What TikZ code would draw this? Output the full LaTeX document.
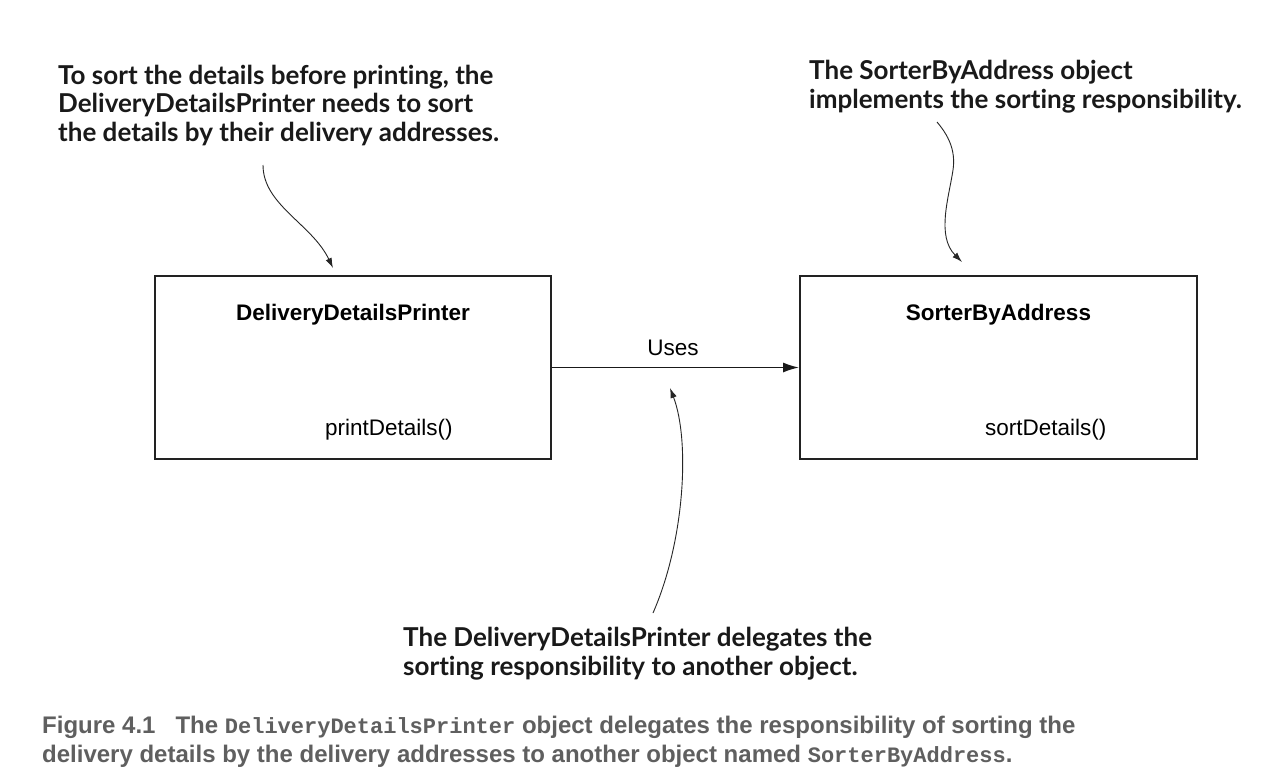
\documentclass[tikz,border=0pt]{standalone}
\usepackage{fontspec}
\setmainfont{Liberation Sans}
\setmonofont{Liberation Mono}
\newfontfamily\annfont[Ligatures=NoCommon]{Lato}
\newfontfamily\capfont{Liberation Sans}
\usetikzlibrary{arrows.meta}
\definecolor{capgray}{HTML}{5F5F5F}
\definecolor{boxline}{HTML}{222222}
\begin{document}
\begin{tikzpicture}[x=1pt,y=-1pt,
  cls/.style={draw=boxline, line width=1.8pt, minimum width=396pt, minimum height=183pt, inner sep=0pt},
  title/.style={font=\fontsize{22.5}{26}\selectfont\bfseries, inner sep=0pt},
  method/.style={font=\fontsize{22.5}{26}\selectfont, inner sep=0pt},
  ann/.style={font=\annfont\bfseries\fontsize{26}{28.5}\selectfont, align=left, inner sep=0pt, text=black!90},
  note/.style={draw=black!85, line width=0.9pt, -{Latex[length=10pt,width=6.5pt]}},
  usesarrow/.style={draw=black!90, line width=1.6pt, -{Latex[length=16pt,width=10pt]}},
  caption/.style={font=\capfont\bfseries\fontsize{24}{29}\selectfont, text=capgray, align=left, inner sep=0pt}
]
\useasboundingbox (0,0) rectangle (1262,779);
\fill[white] (0,0) rectangle (1262,779);

% classes
\node[cls] (p) at (353,367.5) {};
\node[cls, minimum width=397pt] (s) at (998.5,367.5) {};
\node[title, anchor=base] (pt) at (353,320.5) {DeliveryDetailsPrinter};
\node[title, anchor=base] (st) at (998.5,320) {SorterByAddress};
\node[method, anchor=base west] (pm) at (325,435) {printDetails()};
\node[method, anchor=base west] (sm) at (985,435) {sortDetails()};

% uses
\draw[usesarrow] (p.east) -- (s.west);
\node[method, anchor=base] (uses) at (673,355) {Uses};

% annotations (base anchor = last line baseline)
\node[ann, anchor=base west] (n1) at (58,141) {To sort the details before printing, the\\DeliveryDetailsPrinter needs to sort\\the details by their delivery addresses.};
\node[ann, anchor=base west] (n2) at (809,108) {The SorterByAddress object\\implements the sorting responsibility.};
\node[ann, anchor=base west] (n3) at (403,675) {The DeliveryDetailsPrinter delegates the\\sorting responsibility to another object.};

\coordinate (a1s) at (263,165);
\coordinate (a1e) at (333,268);
\draw[note] (a1s) .. controls (263,205) and (312,224) .. (a1e);

\coordinate (a2s) at (937,122);
\coordinate (a2m) at (953,170);
\coordinate (a2e) at (962,262);
\draw[note] (a2s) .. controls (948,135) and (956,150) .. (a2m) .. controls (949,197) and (936,236) .. (a2e);

\coordinate (a3s) at (653,613);
\coordinate (a3e) at (670,388);
\draw[note] (a3s) .. controls (685,540) and (690,440) .. (a3e);

% caption
\node[caption, anchor=base west] (cap) at (42,762) {Figure 4.1\hspace{20pt}The {\ttfamily\bfseries\fontsize{22}{29}\selectfont DeliveryDetailsPrinter} object delegates the responsibility of sorting the\\delivery details by the delivery addresses to another object named {\ttfamily\bfseries\fontsize{22}{29}\selectfont SorterByAddress}.};
\end{tikzpicture}
\end{document}
